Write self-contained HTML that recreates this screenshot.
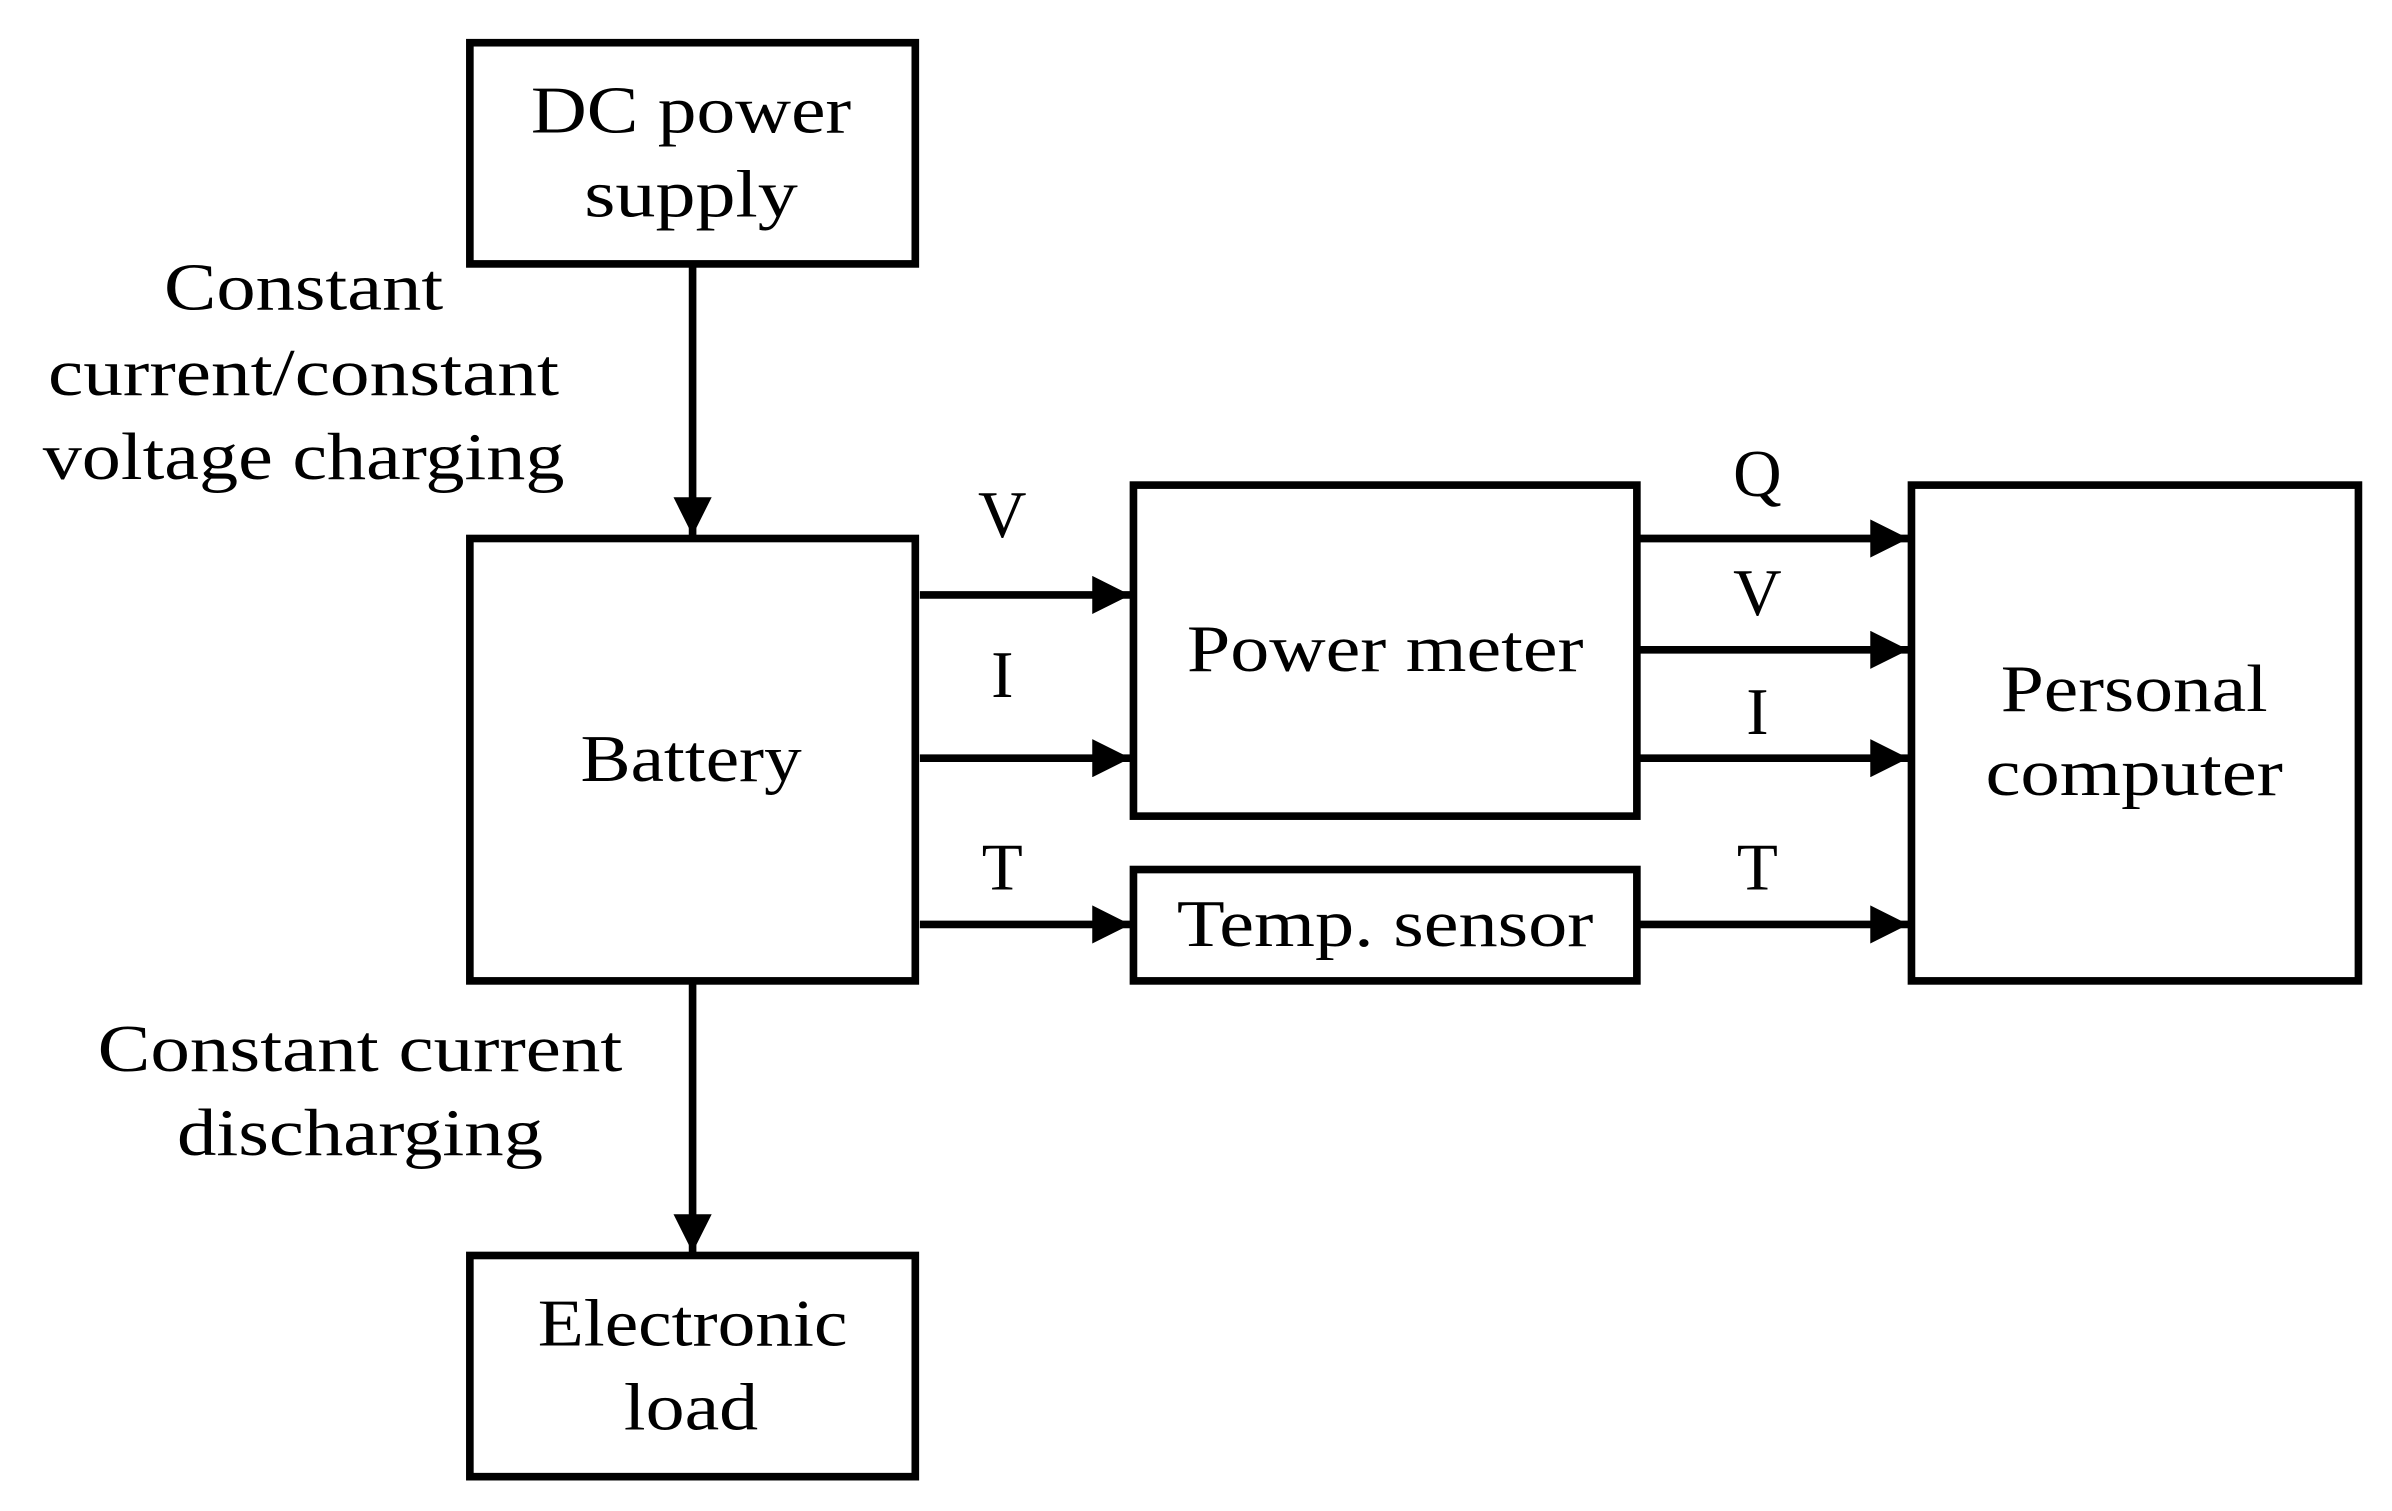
<!DOCTYPE html>
<html><head><meta charset="utf-8"><style>
html,body{margin:0;padding:0;background:#fff;}
svg{display:block;}
text{font-family:"Liberation Serif",serif;font-size:44px;fill:#000;text-anchor:middle;}
</style></head><body>
<svg width="2392" height="1511" viewBox="0 0 1568 990.5" preserveAspectRatio="none">
<defs><marker id="a" viewBox="0 0 10 10" refX="10" refY="5" markerWidth="7" markerHeight="5" markerUnits="strokeWidth" orient="auto"><path d="M0,0L10,5L0,10z" fill="#000"/></marker></defs>
<g fill="none" stroke="#000" stroke-width="5">
<rect x="308" y="28" width="292" height="145"/>
<rect x="308" y="353" width="292" height="290"/>
<rect x="308" y="823" width="292" height="145"/>
<rect x="743" y="318" width="330" height="217"/>
<rect x="743" y="570" width="330" height="73"/>
<rect x="1253" y="318" width="293" height="325"/>
<line x1="454" y1="173" x2="454" y2="351" marker-end="url(#a)"/>
<line x1="454" y1="643" x2="454" y2="821" marker-end="url(#a)"/>
<line x1="603" y1="390" x2="741" y2="390" marker-end="url(#a)"/>
<line x1="603" y1="497" x2="741" y2="497" marker-end="url(#a)"/>
<line x1="603" y1="606" x2="741" y2="606" marker-end="url(#a)"/>
<line x1="1073" y1="353" x2="1251" y2="353" marker-end="url(#a)"/>
<line x1="1073" y1="426" x2="1251" y2="426" marker-end="url(#a)"/>
<line x1="1073" y1="497" x2="1251" y2="497" marker-end="url(#a)"/>
<line x1="1073" y1="606" x2="1251" y2="606" marker-end="url(#a)"/>
</g>
<g lengthAdjust="spacingAndGlyphs">
<text x="453" y="87" textLength="210" lengthAdjust="spacingAndGlyphs">DC power</text>
<text x="453" y="142" textLength="140" lengthAdjust="spacingAndGlyphs">supply</text>
<text x="199" y="203" textLength="183" lengthAdjust="spacingAndGlyphs">Constant</text>
<text x="199" y="259" textLength="335" lengthAdjust="spacingAndGlyphs">current/constant</text>
<text x="199" y="314" textLength="342" lengthAdjust="spacingAndGlyphs">voltage charging</text>
<text x="453" y="512" textLength="145" lengthAdjust="spacingAndGlyphs">Battery</text>
<text x="236" y="702" textLength="344" lengthAdjust="spacingAndGlyphs">Constant current</text>
<text x="236" y="757" textLength="240" lengthAdjust="spacingAndGlyphs">discharging</text>
<text x="454" y="882" textLength="203" lengthAdjust="spacingAndGlyphs">Electronic</text>
<text x="453" y="937" textLength="88" lengthAdjust="spacingAndGlyphs">load</text>
<text x="908" y="440" textLength="260" lengthAdjust="spacingAndGlyphs">Power meter</text>
<text x="908" y="620" textLength="273" lengthAdjust="spacingAndGlyphs">Temp. sensor</text>
<text x="1399" y="466" textLength="175" lengthAdjust="spacingAndGlyphs">Personal</text>
<text x="1399" y="521" textLength="195" lengthAdjust="spacingAndGlyphs">computer</text>
</g>
<text x="657" y="352">V</text>
<text x="657" y="457">I</text>
<text x="657" y="583">T</text>
<text x="1152" y="325">Q</text>
<text x="1152" y="403">V</text>
<text x="1152" y="481">I</text>
<text x="1152" y="583">T</text>
</svg>
</body></html>
